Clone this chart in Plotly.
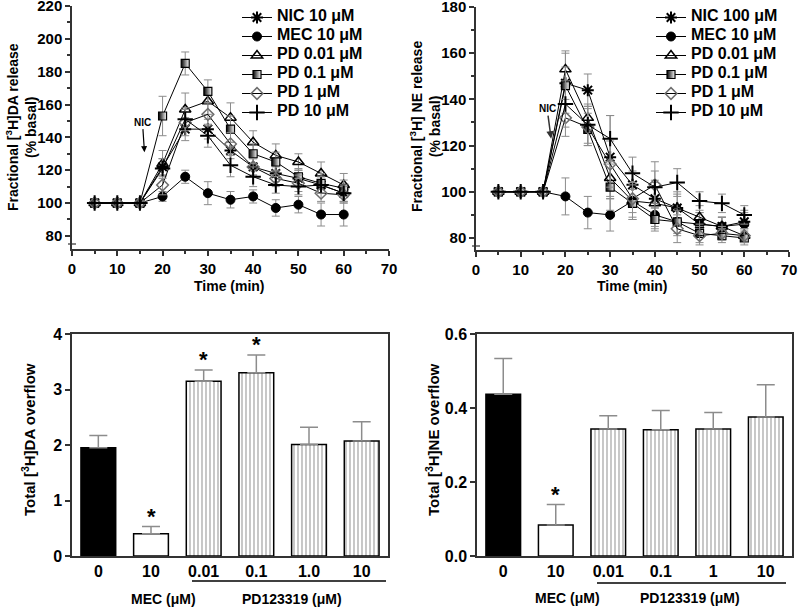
import plotly.graph_objects as go

# ---------------- data ----------------
time_min = [5, 10, 15, 20, 25, 30, 35, 40, 45, 50, 55, 60]

da_names = ["NIC 10 \u03bcM", "MEC 10 \u03bcM", "PD 0.01 \u03bcM", "PD 0.1 \u03bcM", "PD 1 \u03bcM", "PD 10 \u03bcM"]
da_nic = [100, 100, 100, 122, 145, 145, 132, 122, 118, 115, 111, 106]
da_mec = [100, 100, 100, 104, 116, 106, 102, 104, 97, 99, 93, 93]
da_pd001 = [100, 100, 100, 124, 157, 162, 152, 137, 129, 125, 118, 111]
da_pd01 = [100, 100, 100, 153, 185, 168, 145, 130, 125, 116, 112, 109]
da_pd1 = [100, 100, 100, 111, 149, 154, 136, 122, 115, 112, 106, 105]
da_pd10 = [100, 100, 100, 121, 151, 141, 123, 116, 111, 110, 111, 106]
da_nic_err = [0, 0, 0, 5, 7, 6, 5, 5, 5, 5, 5, 5]
da_mec_err = [0, 0, 0, 3, 4, 7, 5, 4, 5, 5, 7, 7]
da_pd001_err = [0, 0, 0, 8, 10, 8, 9, 7, 7, 5, 7, 7]
da_pd01_err = [0, 0, 0, 12, 7, 7, 8, 6, 6, 5, 6, 5]
da_pd1_err = [0, 0, 0, 6, 8, 7, 7, 5, 5, 5, 5, 5]
da_pd10_err = [0, 0, 0, 6, 7, 7, 7, 6, 5, 5, 5, 5]

ne_names = ["NIC 100 \u03bcM", "MEC 10 \u03bcM", "PD 0.01 \u03bcM", "PD 0.1 \u03bcM", "PD 1 \u03bcM", "PD 10 \u03bcM"]
ne_nic = [100, 100, 100, 147, 144, 115, 103, 97, 93, 86, 85, 87]
ne_mec = [100, 100, 100, 98, 91, 90, 96, 90, 87, 86, 85, 86]
ne_pd001 = [100, 100, 100, 153, 132, 106, 96, 95, 93, 89, 85, 81]
ne_pd01 = [100, 100, 100, 146, 127, 102, 95, 88, 87, 82, 81, 80]
ne_pd1 = [100, 100, 100, 132, 128, 112, 97, 103, 84, 81, 82, 81]
ne_pd10 = [100, 100, 100, 138, 129, 123, 108, 102, 104, 96, 95, 90]
ne_nic_err = [0, 0, 0, 13, 7, 18, 6, 7, 6, 5, 4, 5]
ne_mec_err = [0, 0, 0, 8, 7, 7, 8, 6, 6, 5, 4, 5]
ne_pd001_err = [0, 0, 0, 8, 6, 8, 8, 10, 7, 5, 4, 3]
ne_pd01_err = [0, 0, 0, 8, 7, 10, 6, 5, 5, 4, 3, 3]
ne_pd1_err = [0, 0, 0, 8, 8, 10, 6, 10, 6, 4, 3, 3]
ne_pd10_err = [0, 0, 0, 10, 8, 10, 7, 7, 6, 4, 4, 4]

bar_cats_da = ["0", "10", "0.01", "0.1", "1.0", "10 "]
bar_cats_ne = ["0", "10", "0.01", "0.1", "1", "10 "]
da_overflow = [1.95, 0.40, 3.15, 3.30, 2.01, 2.07]
da_overflow_err = [0.22, 0.13, 0.20, 0.32, 0.31, 0.35]
ne_overflow = [0.437, 0.084, 0.343, 0.341, 0.343, 0.376]
ne_overflow_err = [0.097, 0.055, 0.036, 0.052, 0.045, 0.087]
da_sig = [False, True, True, True, False, False]
ne_sig = [False, True, False, False, False, False]

# ---------------- styling ----------------
FONT = "Liberation Sans, Arial, sans-serif"
ERRC = "#8c8c8c"

styles = [
    dict(symbol="asterisk-open", size=10, color="black", line=dict(width=2, color="black")),
    dict(symbol="circle", size=9, color="black", line=dict(width=1, color="black")),
    dict(symbol="triangle-up-open", size=10, color="black", line=dict(width=1.5, color="black")),
    dict(symbol="square", size=8, color="black", gradient=dict(type="horizontal", color="white"),
         line=dict(width=1.2, color="black")),
    dict(symbol="diamond-open", size=9, color="#6e6e6e", line=dict(width=1.5, color="#6e6e6e")),
    dict(symbol="cross-thin-open", size=11, color="black", line=dict(width=2, color="black")),
]


def legend_label(name):
    return f'<span style="font-size:16px"><b>{name}</b></span>'


fig = go.Figure()

da_series = [da_nic, da_mec, da_pd001, da_pd01, da_pd1, da_pd10]
da_errs = [da_nic_err, da_mec_err, da_pd001_err, da_pd01_err, da_pd1_err, da_pd10_err]
ne_series = [ne_nic, ne_mec, ne_pd001, ne_pd01, ne_pd1, ne_pd10]
ne_errs = [ne_nic_err, ne_mec_err, ne_pd001_err, ne_pd01_err, ne_pd1_err, ne_pd10_err]

for name, ys, es, st in zip(da_names, da_series, da_errs, styles):
    fig.add_trace(go.Scatter(
        x=time_min, y=ys, name=legend_label(name), mode="lines+markers",
        line=dict(color="black", width=1), marker=st,
        error_y=dict(type="data", array=es, color=ERRC, thickness=1, width=4),
        xaxis="x", yaxis="y", legend="legend"))

for name, ys, es, st in zip(ne_names, ne_series, ne_errs, styles):
    fig.add_trace(go.Scatter(
        x=time_min, y=ys, name=legend_label(name), mode="lines+markers",
        line=dict(color="black", width=1), marker=st,
        error_y=dict(type="data", array=es, color=ERRC, thickness=1, width=4),
        xaxis="x2", yaxis="y2", legend="legend2"))

bar_fill = ["black", "white", "white", "white", "white", "white"]
bar_pattern = ["", "", "|", "|", "|", "|"]

for cats, vals, errs, xa, ya in [(bar_cats_da, da_overflow, da_overflow_err, "x3", "y3"),
                                 (bar_cats_ne, ne_overflow, ne_overflow_err, "x4", "y4")]:
    fig.add_trace(go.Bar(
        x=cats, y=vals, width=0.66, showlegend=False,
        marker=dict(color=bar_fill, line=dict(color="black", width=1.5),
                    pattern=dict(shape=bar_pattern, fgcolor="#555555", bgcolor="white",
                                 size=4, solidity=0.3)),
        error_y=dict(type="data", symmetric=False, array=errs, arrayminus=[0] * len(errs),
                     color=ERRC, thickness=1.5, width=9),
        xaxis=xa, yaxis=ya))

annotations = []
for cats, vals, errs, sig, xa, ya in [(bar_cats_da, da_overflow, da_overflow_err, da_sig, "x3", "y3"),
                                      (bar_cats_ne, ne_overflow, ne_overflow_err, ne_sig, "x4", "y4")]:
    for i, (v, e, s) in enumerate(zip(vals, errs, sig)):
        if s:
            annotations.append(dict(x=i, y=v + e, xref=xa, yref=ya, text="<b>*</b>",
                                    showarrow=False, xanchor="center", yanchor="bottom", yshift=-4,
                                    font=dict(size=22, family=FONT, color="black")))

# NIC arrows
annotations.append(dict(x=16, y=131, xref="x", yref="y", text="<b>NIC</b>", showarrow=True,
                        ax=-2, ay=-30, arrowhead=2, arrowsize=1, arrowwidth=1.2, arrowcolor="black",
                        font=dict(size=10, family=FONT, color="black")))
annotations.append(dict(x=16.8, y=123, xref="x2", yref="y2", text="<b>NIC</b>", showarrow=True,
                        ax=-4, ay=-30, arrowhead=2, arrowsize=1, arrowwidth=1.5, arrowcolor="#333",
                        font=dict(size=10, family=FONT, color="black")))


def ptx(px):
    return px / 800.0


def pty(py):
    return 1 - py / 608.0


def label(px, py, text, size, angle=0):
    return dict(x=ptx(px), y=pty(py), xref="paper", yref="paper", textangle=angle, showarrow=False,
                xanchor="center", yanchor="middle", text=text,
                font=dict(size=size, family=FONT, color="black"))


annotations += [
    label(21, 127, "<b>Fractional [<sup>3</sup>H]DA release</b><br><b>(% basal)</b>", 14, -90),
    label(425, 127, "<b>Fractional [<sup>3</sup>H] NE release</b><br><b>(% basal)</b>", 14, -90),
    label(230, 286, "<b>Time (min)</b>", 14),
    label(632, 286, "<b>Time (min)</b>", 14),
    label(28, 440, "<b>Total [<sup>3</sup>H]DA overflow</b>", 15, -90),
    label(432, 440, "<b>Total [<sup>3</sup>H]NE overflow</b>", 15, -90),
    label(163, 599, "<b>MEC (\u03bcM)</b>", 14),
    label(292, 599, "<b>PD123319 (\u03bcM)</b>", 14),
    label(567, 598, "<b>MEC (\u03bcM)</b>", 14),
    label(690, 598, "<b>PD123319 (\u03bcM)</b>", 14),
]

shapes = [
    dict(type="line", xref="paper", yref="paper", x0=ptx(192), x1=ptx(386), y0=pty(581), y1=pty(581),
         line=dict(color="black", width=1.5)),
    dict(type="line", xref="paper", yref="paper", x0=ptx(597), x1=ptx(786), y0=pty(583), y1=pty(583),
         line=dict(color="black", width=1.5)),
    # axis-break marks
    dict(type="line", xref="paper", yref="paper", x0=ptx(68), x1=ptx(76), y0=pty(244), y1=pty(244),
         line=dict(color="#333", width=1.2)),
    dict(type="line", xref="paper", yref="paper", x0=ptx(472), x1=ptx(480), y0=pty(246), y1=pty(246),
         line=dict(color="#333", width=1.2)),
]

AX = dict(showline=True, linecolor="#333", linewidth=1.5, ticks="outside", ticklen=5,
          tickcolor="#333", tickwidth=1.5, showgrid=False, zeroline=False, automargin=False,
          ticklabeloverflow="allow", tickfont=dict(size=15, family=FONT, color="black"))
tickfont_b = dict(size=16, family=FONT, color="black")
xt = [0, 10, 20, 30, 40, 50, 60, 70]

fig.update_layout(
    width=800, height=608, margin=dict(l=0, r=0, t=0, b=0, autoexpand=False),
    paper_bgcolor="white", plot_bgcolor="white",
    font=dict(family=FONT, color="black"),
    xaxis=dict(AX, domain=[ptx(72), ptx(389)], range=[0, 70], anchor="y",
               tickvals=xt, ticktext=[f"<b>{v}</b>" for v in xt],
               minor=dict(ticks="outside", dtick=5, ticklen=3, tickcolor="#333")),
    yaxis=dict(AX, domain=[pty(249), pty(6)], range=[72, 220], anchor="x",
               tickvals=list(range(80, 240, 20)), ticktext=[f"<b>{v}</b>" for v in range(80, 240, 20)],
               minor=dict(ticks="outside", tickvals=list(range(90, 220, 20)), ticklen=3, tickcolor="#333")),
    xaxis2=dict(AX, domain=[ptx(476), ptx(789)], range=[0, 70], anchor="y2",
                tickvals=xt, ticktext=[f"<b>{v}</b>" for v in xt],
                minor=dict(ticks="outside", dtick=5, ticklen=3, tickcolor="#333")),
    yaxis2=dict(AX, domain=[pty(250), pty(7)], range=[74.8, 180], anchor="x2",
                tickvals=list(range(80, 200, 20)), ticktext=[f"<b>{v}</b>" for v in range(80, 200, 20)],
                minor=dict(ticks="outside", tickvals=list(range(90, 180, 20)), ticklen=3, tickcolor="#333")),
    xaxis3=dict(AX, domain=[ptx(72), ptx(388)], range=[-0.5, 5.5], anchor="y3", mirror=True, ticks="",
                type="category", tickfont=tickfont_b,
                tickvals=bar_cats_da, ticktext=[f"<b>{c.strip()}</b>" for c in bar_cats_da]),
    yaxis3=dict(AX, domain=[pty(556), pty(334)], range=[0, 4], anchor="x3", mirror=True,
                tickvals=[0, 1, 2, 3, 4], ticktext=[f"<b>{v}</b>" for v in [0, 1, 2, 3, 4]], tickfont=tickfont_b),
    xaxis4=dict(AX, domain=[ptx(477), ptx(792)], range=[-0.5, 5.5], anchor="y4", mirror=True, ticks="",
                type="category", tickfont=tickfont_b,
                tickvals=bar_cats_ne, ticktext=[f"<b>{c.strip()}</b>" for c in bar_cats_ne]),
    yaxis4=dict(AX, domain=[pty(556), pty(334)], range=[0, 0.6], anchor="x4", mirror=True,
                tickvals=[0, 0.2, 0.4, 0.6], ticktext=["<b>0.0</b>", "<b>0.2</b>", "<b>0.4</b>", "<b>0.6</b>"],
                tickfont=tickfont_b),
    legend=dict(x=ptx(237), y=pty(3), xanchor="left", yanchor="top", bgcolor="rgba(0,0,0,0)",
                font=dict(size=10, family=FONT, color="black"), itemwidth=30, tracegroupgap=0),
    legend2=dict(x=ptx(651), y=pty(3), xanchor="left", yanchor="top", bgcolor="rgba(0,0,0,0)",
                 font=dict(size=10, family=FONT, color="black"), itemwidth=30, tracegroupgap=0),
    annotations=annotations, shapes=shapes, bargap=0.3,
)

fig.write_html("out.html", config={"displayModeBar": False},
               post_script="document.body.style.margin='0';")
